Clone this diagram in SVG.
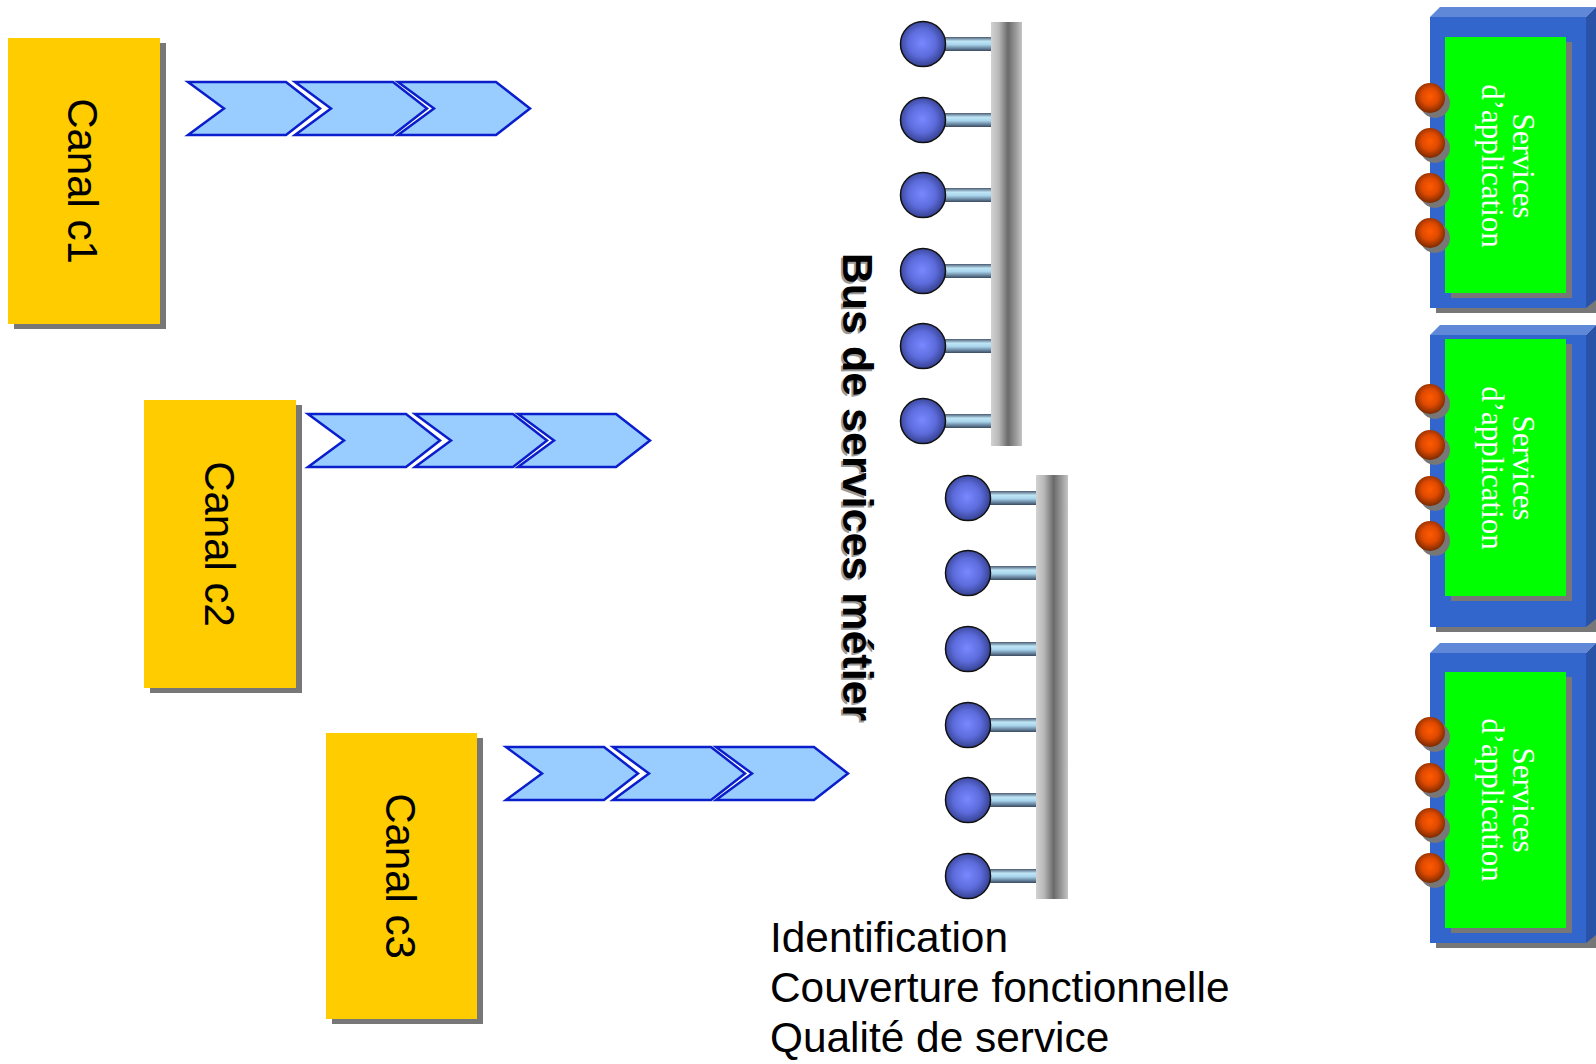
<svg xmlns="http://www.w3.org/2000/svg" xmlns:xlink="http://www.w3.org/1999/xlink" width="1596" height="1064" viewBox="0 0 1596 1064">
<style>
.canal{fill:#FFCC00}
.shadow{fill:#777777}
.canaltxt{font-family:"Liberation Sans",Arial,sans-serif;font-size:42px;fill:#000;text-anchor:middle}
.chev{fill:#99CCFF;stroke:#0A1ECC;stroke-width:2.5;stroke-linejoin:miter}
.bar{stroke:none}
.ball{stroke:#111;stroke-width:1.5}
.front{fill:#3366CC}
.top{fill:#5F88D8}
.side{fill:#2A52A6}
.green{fill:#00FF00}
.svc{font-family:"Liberation Serif","Times New Roman",serif;font-size:31px;fill:#FFFFFF;text-anchor:middle}
.bus{font-family:"Liberation Sans",Arial,sans-serif;font-size:43px;font-weight:bold;text-anchor:middle}
.info{font-family:"Liberation Sans",Arial,sans-serif;font-size:42.4px;fill:#000}
</style>
<defs>
<linearGradient id="barGrad" x1="0" y1="0" x2="1" y2="0">
<stop offset="0" stop-color="#D2D2D2"/>
<stop offset="0.25" stop-color="#B8B8B8"/>
<stop offset="0.55" stop-color="#6A6A6A"/>
<stop offset="0.8" stop-color="#9A9A9A"/>
<stop offset="1" stop-color="#C4C4C4"/>
</linearGradient>
<linearGradient id="stemGrad" x1="0" y1="0" x2="0" y2="1">
<stop offset="0" stop-color="#4A5A72"/>
<stop offset="0.3" stop-color="#BFE6F6"/>
<stop offset="0.55" stop-color="#A8D4EC"/>
<stop offset="0.8" stop-color="#6A86A0"/>
<stop offset="1" stop-color="#3A4A60"/>
</linearGradient>
<radialGradient id="ballGrad" cx="0.48" cy="0.48" r="0.55">
<stop offset="0" stop-color="#7888FF"/>
<stop offset="0.55" stop-color="#5D6CDC"/>
<stop offset="1" stop-color="#303C88"/>
</radialGradient>
<radialGradient id="orGrad" cx="0.5" cy="0.45" r="0.55">
<stop offset="0" stop-color="#FF5A00"/>
<stop offset="0.5" stop-color="#E04A00"/>
<stop offset="1" stop-color="#7A2A00"/>
</radialGradient>
<path id="chevron" class="chev" d="M0,0 L98,0 L132,26.5 L98,53 L0,53 L36,26.5 Z"/>
<g id="stub">
<rect x="0" y="-7" width="70" height="14" fill="url(#stemGrad)"/>
<circle class="ball" cx="0" cy="0" r="22.5" fill="url(#ballGrad)"/>
</g>
<g id="port">
<circle cx="5" cy="5" r="15" class="shadow"/>
<circle cx="0" cy="0" r="15" fill="url(#orGrad)"/>
</g>
</defs>
<rect width="1596" height="1064" fill="#FFFFFF"/>

<g id="canal-c1">
<rect class="shadow" x="14" y="43" width="152" height="286"/>
<rect class="canal" x="8" y="38" width="152" height="286"/>
<text class="canaltxt" transform="translate(68,181) rotate(90)">Canal c1</text>
</g>
<g id="canal-c2">
<rect class="shadow" x="150" y="405" width="152" height="288"/>
<rect class="canal" x="144" y="400" width="152" height="288"/>
<text class="canaltxt" transform="translate(205,544) rotate(90)">Canal c2</text>
</g>
<g id="canal-c3">
<rect class="shadow" x="332" y="738" width="151" height="286"/>
<rect class="canal" x="326" y="733" width="151" height="286"/>
<text class="canaltxt" transform="translate(386,876) rotate(90)">Canal c3</text>
</g>

<g id="connectors">
<g transform="translate(188,82)">
<use xlink:href="#chevron" href="#chevron"/>
<use xlink:href="#chevron" href="#chevron" x="107"/>
<use xlink:href="#chevron" href="#chevron" x="210"/>
</g>
<g transform="translate(308,414)">
<use xlink:href="#chevron" href="#chevron"/>
<use xlink:href="#chevron" href="#chevron" x="107"/>
<use xlink:href="#chevron" href="#chevron" x="210"/>
</g>
<g transform="translate(506,747)">
<use xlink:href="#chevron" href="#chevron"/>
<use xlink:href="#chevron" href="#chevron" x="107"/>
<use xlink:href="#chevron" href="#chevron" x="210"/>
</g>
</g>

<g id="bus-1">
<use xlink:href="#stub" href="#stub" x="923" y="44"/>
<use xlink:href="#stub" href="#stub" x="923" y="120"/>
<use xlink:href="#stub" href="#stub" x="923" y="195"/>
<use xlink:href="#stub" href="#stub" x="923" y="271"/>
<use xlink:href="#stub" href="#stub" x="923" y="346"/>
<use xlink:href="#stub" href="#stub" x="923" y="421"/>
<rect class="bar" x="991" y="22" width="31" height="424" fill="url(#barGrad)"/>
</g>
<g id="bus-2">
<use xlink:href="#stub" href="#stub" x="968" y="498"/>
<use xlink:href="#stub" href="#stub" x="968" y="573"/>
<use xlink:href="#stub" href="#stub" x="968" y="649"/>
<use xlink:href="#stub" href="#stub" x="968" y="725"/>
<use xlink:href="#stub" href="#stub" x="968" y="800"/>
<use xlink:href="#stub" href="#stub" x="968" y="876"/>
<rect class="bar" x="1036" y="475" width="32" height="424" fill="url(#barGrad)"/>
</g>

<g id="bus-label">
<text class="bus" fill="#9A9A9A" transform="translate(841,489) rotate(90)">Bus de services métier</text>
<text class="bus" fill="#000000" transform="translate(843,487) rotate(90)">Bus de services métier</text>
</g>

<g id="info">
<text class="info" x="770" y="952">Identification</text>
<text class="info" x="770" y="1002">Couverture fonctionnelle</text>
<text class="info" x="770" y="1052">Qualité de service</text>
</g>

<g id="app-1">
<rect class="shadow" x="1436" y="22" width="160" height="291"/>
<polygon class="top" points="1430,17 1440,7 1596,7 1586,17"/>
<polygon class="side" points="1586,17 1596,7 1596,300 1586,308"/>
<rect class="front" x="1430" y="17" width="156" height="291"/>
<rect class="shadow" x="1451" y="42" width="121" height="256"/>
<rect class="green" x="1445" y="37" width="121" height="256"/>
<text class="svc" transform="translate(1513,166) rotate(90)">Services</text>
<text class="svc" transform="translate(1482,166) rotate(90)">d’application</text>
<use xlink:href="#port" href="#port" x="1430" y="98"/>
<use xlink:href="#port" href="#port" x="1430" y="143"/>
<use xlink:href="#port" href="#port" x="1430" y="188"/>
<use xlink:href="#port" href="#port" x="1430" y="233"/>
</g>
<g id="app-2">
<rect class="shadow" x="1436" y="340" width="160" height="292"/>
<polygon class="top" points="1430,335 1440,325 1596,325 1586,335"/>
<polygon class="side" points="1586,335 1596,325 1596,619 1586,627"/>
<rect class="front" x="1430" y="335" width="156" height="292"/>
<rect class="shadow" x="1451" y="344" width="121" height="257"/>
<rect class="green" x="1445" y="339" width="121" height="257"/>
<text class="svc" transform="translate(1513,468) rotate(90)">Services</text>
<text class="svc" transform="translate(1482,468) rotate(90)">d’application</text>
<use xlink:href="#port" href="#port" x="1430" y="399"/>
<use xlink:href="#port" href="#port" x="1430" y="445"/>
<use xlink:href="#port" href="#port" x="1430" y="491"/>
<use xlink:href="#port" href="#port" x="1430" y="536"/>
</g>
<g id="app-3">
<rect class="shadow" x="1436" y="658" width="160" height="290"/>
<polygon class="top" points="1430,653 1440,643 1596,643 1586,653"/>
<polygon class="side" points="1586,653 1596,643 1596,935 1586,943"/>
<rect class="front" x="1430" y="653" width="156" height="290"/>
<rect class="shadow" x="1451" y="677" width="121" height="256"/>
<rect class="green" x="1445" y="672" width="121" height="256"/>
<text class="svc" transform="translate(1513,800) rotate(90)">Services</text>
<text class="svc" transform="translate(1482,800) rotate(90)">d’application</text>
<use xlink:href="#port" href="#port" x="1430" y="732"/>
<use xlink:href="#port" href="#port" x="1430" y="778"/>
<use xlink:href="#port" href="#port" x="1430" y="823"/>
<use xlink:href="#port" href="#port" x="1430" y="868"/>
</g>
</svg>
